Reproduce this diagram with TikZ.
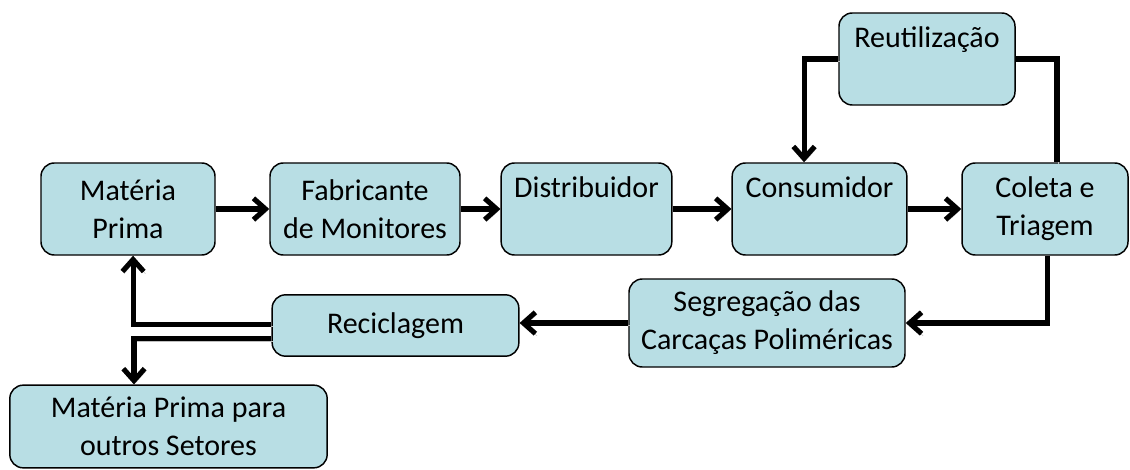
\documentclass[tikz,border=0pt]{standalone}
\usepackage{fontspec}
\setmainfont{Carlito}
\usepackage{tikz}
\usetikzlibrary{arrows.meta}
\definecolor{boxblue}{HTML}{B8DEE4}
\tikzset{>={Straight Barb[length=9pt,width=16pt]}}
\tikzset{%
    block/.style={draw=black, fill=boxblue, line width=1.1pt, rounded corners=10pt,
        inner sep=0pt, align=center, font=\fontsize{22.5}{28.5}\selectfont},
    flow/.style={line width=3.8pt, black,
        preaction={draw=gray!50, transform canvas={shift={(1.2pt,-1.6pt)}}}}
}

\begin{document}
\begin{tikzpicture}[x=0.75pt,y=-0.75pt]
\useasboundingbox (0,0) rectangle (1130,470);

\node[block, minimum width=130.5pt, minimum height=69pt] (mp) at (128,209) {Matéria\\Prima};
\node[block, minimum width=142.5pt, minimum height=69pt] (fab) at (365,209) {Fabricante\\de Monitores};
\node[block, minimum width=128pt, minimum height=69pt] (dist) at (586.5,209) {Distribuidor\\\vphantom{Pg}};
\node[block, minimum width=131pt, minimum height=69pt] (cons) at (819.5,209) {Consumidor\\\vphantom{Pg}};
\node[block, minimum width=124.5pt, minimum height=69pt] (col) at (1045,209) {Coleta e\\Triagem};
\node[block, minimum width=132pt, minimum height=69pt] (reut) at (927,59) {Reutilização\\\vphantom{Pg}};
\node[block, minimum width=207pt, minimum height=66pt] (seg) at (767,323) {Segregação das\\Carcaças Poliméricas};
\node[block, minimum width=185pt, minimum height=46pt] (rec) at (395.5,325.5) {Reciclagem};
\node[block, minimum width=238pt, minimum height=62pt] (out) at (168.5,426.5) {Matéria Prima para\\outros Setores};

\draw[flow,->] (mp) -- (fab);
\draw[flow,->] (fab) -- (dist);
\draw[flow,->] (dist) -- (cons);
\draw[flow,->] (cons) -- (col);

\draw[flow,->] (reut.west) -| ([xshift=-11.6pt]cons.north);
\draw[flow] (reut.east) -| ([xshift=9pt]col.north);

\draw[flow,->] ([xshift=2.2pt]col.south) |- (seg.east);
\draw[flow,->] (seg.west) -- (seg.west -| rec.east);

\draw[flow,->] ([yshift=1.1pt]rec.west) -| ([xshift=3.8pt]mp.south);
\draw[flow,->] ([yshift=-10pt]rec.west) -| ([xshift=-25.9pt]out.north);
\end{tikzpicture}
\end{document}
